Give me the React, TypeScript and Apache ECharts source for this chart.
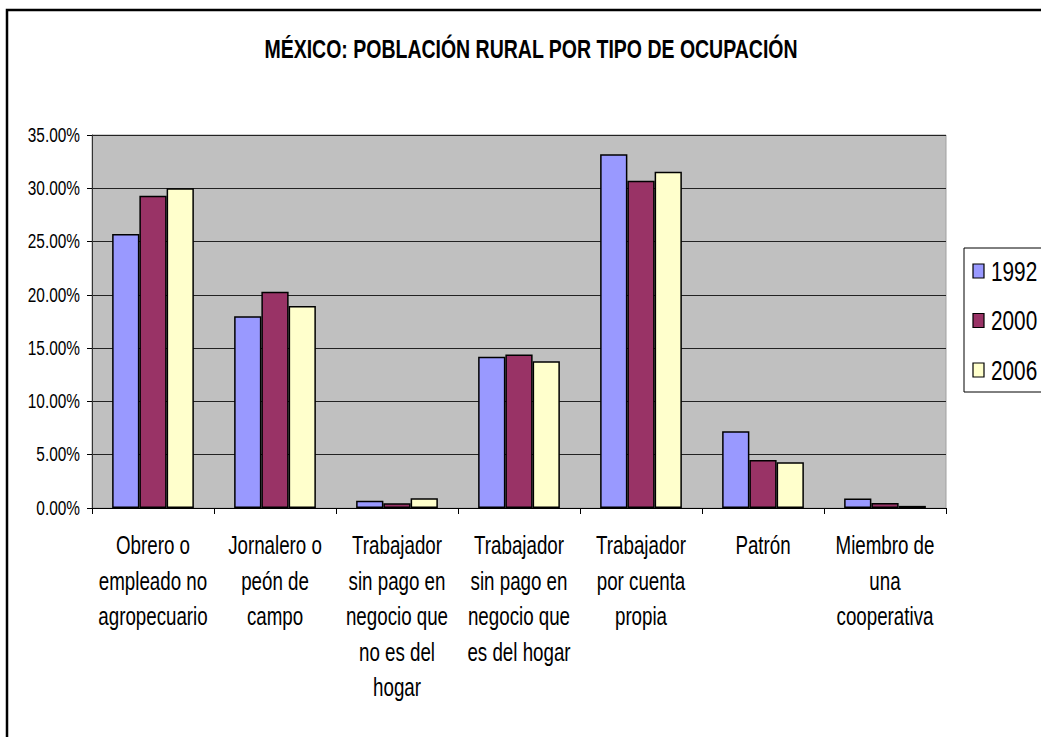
import React, { useEffect, useRef } from "react";
import * as echarts from "echarts";

const categories = [
  "Obrero o\nempleado no\nagropecuario",
  "Jornalero o\npeón de\ncampo",
  "Trabajador\nsin pago en\nnegocio que\nno es del\nhogar",
  "Trabajador\nsin pago en\nnegocio que\nes del hogar",
  "Trabajador\npor cuenta\npropia",
  "Patrón",
  "Miembro de\nuna\ncooperativa",
];
const seriesNames = ["1992", "2000", "2006"];
const values1992 = [0.257, 0.18, 0.0069, 0.142, 0.332, 0.072, 0.009];
const values2000 = [0.293, 0.203, 0.0044, 0.144, 0.307, 0.045, 0.0047];
const values2006 = [0.3, 0.1895, 0.0091, 0.1377, 0.3155, 0.043, 0.002];
const yTicks = [0, 0.05, 0.1, 0.15, 0.2, 0.25, 0.3, 0.35];
const colors = ["#9999ff", "#993366", "#ffffcc"];
const titleText = "MÉXICO: POBLACIÓN RURAL POR TIPO DE OCUPACIÓN";

const FONT = "'Liberation Sans', Arial, sans-serif";

export default function App() {
  const ref = useRef<HTMLDivElement>(null);
  useEffect(() => {
    document.body.style.margin = "0";
    const chart = echarts.init(ref.current!, null, { renderer: "svg" });
    const data = [values1992, values2000, values2006];
    chart.setOption({
      animation: false,
      backgroundColor: "#ffffff",
      textStyle: { fontFamily: FONT },
      grid: {
        left: 92,
        top: 135,
        right: 95,
        bottom: 229,
        show: true,
        backgroundColor: "#c0c0c0",
        borderColor: "#a0a0a0",
        borderWidth: 1,
      },
      xAxis: {
        type: "category",
        data: categories,
        axisLine: { lineStyle: { color: "#000", width: 1 } },
        axisTick: { show: true, length: 6, lineStyle: { color: "#000" } },
        axisLabel: { show: false },
      },
      yAxis: {
        type: "value",
        min: 0,
        max: 0.35,
        interval: 0.05,
        axisLine: { show: true, lineStyle: { color: "#333", width: 1 } },
        axisTick: { show: true, length: 5, lineStyle: { color: "#000" } },
        splitLine: { lineStyle: { color: "#222", width: 1 } },
        axisLabel: { show: false },
      },
      series: seriesNames.map((name, i) => ({
        name,
        type: "bar",
        data: data[i],
        barGap: "0%",
        barCategoryGap: "33%",
        itemStyle: { color: colors[i], borderColor: "#000", borderWidth: 1.5 },
      })),
    });

    const g: any[] = [];
    // outer chart border
    g.push({
      type: "rect",
      shape: { x: 7, y: 10, width: 1060, height: 760 },
      style: { fill: "none", stroke: "#000", lineWidth: 2.5 },
      silent: true,
      z: 100,
    });
    // title
    g.push({
      type: "text",
      x: 531,
      y: 50,
      scaleX: 0.78,
      style: {
        text: titleText,
        x: 0,
        y: 0,
        align: "center",
        verticalAlign: "middle",
        fontFamily: FONT,
        fontSize: 25,
        fontWeight: "bold",
        fill: "#000",
      },
    });
    // category labels
    const xAxisY = chart.convertToPixel({ yAxisIndex: 0 }, 0) as number;
    categories.forEach((c, i) => {
      const cx = chart.convertToPixel({ xAxisIndex: 0 }, i) as number;
      g.push({
        type: "text",
        x: cx,
        y: xAxisY + 20,
        scaleX: 0.75,
        style: {
          text: c,
          x: 0,
          y: 0,
          align: "center",
          verticalAlign: "top",
          lineHeight: 35.5,
          fontFamily: FONT,
          fontSize: 25,
          fill: "#000",
        },
      });
    });
    // y labels
    yTicks.forEach((v) => {
      const py = chart.convertToPixel({ yAxisIndex: 0 }, v) as number;
      g.push({
        type: "text",
        x: 80,
        y: py,
        scaleX: 0.79,
        style: {
          text: (v * 100).toFixed(2) + "%",
          x: 0,
          y: 0,
          align: "right",
          verticalAlign: "middle",
          fontFamily: FONT,
          fontSize: 19.5,
          fill: "#000",
        },
      });
    });
    // legend
    g.push({
      type: "rect",
      shape: { x: 964, y: 248, width: 120, height: 144 },
      style: { fill: "#fff", stroke: "#000", lineWidth: 1 },
    });
    seriesNames.forEach((n, i) => {
      const cy = 271 + i * 49.5;
      g.push({
        type: "rect",
        shape: { x: 973, y: cy - 7, width: 11, height: 14 },
        style: { fill: colors[i], stroke: "#000", lineWidth: 1.2 },
      });
      g.push({
        type: "text",
        x: 991,
        y: cy,
        scaleX: 0.77,
        style: {
          text: n,
          x: 0,
          y: 0,
          align: "left",
          verticalAlign: "middle",
          fontFamily: FONT,
          fontSize: 27,
          fill: "#000",
        },
      });
    });
    chart.setOption({ graphic: g });
    return () => chart.dispose();
  }, []);
  return <div ref={ref} style={{ width: 1041, height: 737 }} />;
}
